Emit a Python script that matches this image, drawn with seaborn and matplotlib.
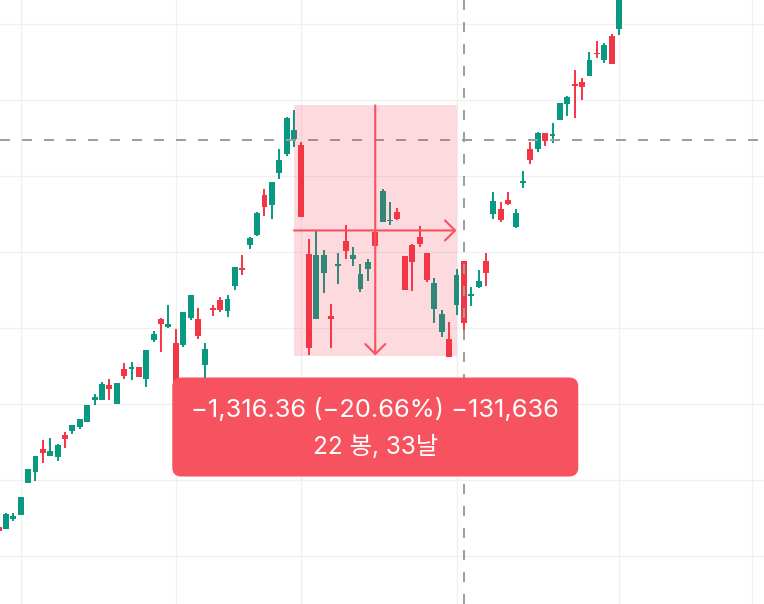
import numpy as np
import pandas as pd
import matplotlib
matplotlib.use("Agg")
import matplotlib.pyplot as plt
import seaborn as sns
from matplotlib.patches import FancyBboxPatch, Rectangle
from matplotlib.transforms import IdentityTransform

# ---------------- data ----------------
opens = [4153, 4142, 4195, 4216, 4384, 4442, 4563, 4526, 4521, 4637,
         4658, 4679, 4705, 4821, 4821, 4900, 4800, 4984, 4984, 4995,
         4932, 5137, 5247, 5205, 5121, 5111, 5253, 5247, 5005, 5305,
         5347, 5290, 5421, 5516, 5637, 5690, 5900, 5847, 6016, 6116,
         6195, 6163, 5590, 5247, 5490, 5263, 5526, 5658, 5563, 5405,
         5511, 5705, 5758, 5763, 5811, 5579, 5637, 5679, 5595, 5300,
         5179, 5142, 5321, 5553, 5369, 5416, 5553, 5800, 5826, 5874,
         5732, 5963, 6142, 6142, 6226, 6211, 6295, 6379, 6484, 6495,
         6526, 6647, 6611, 6737, 6774]
highs = [4163, 4226, 4226, 4311, 4458, 4526, 4611, 4621, 4590, 4653,
         4690, 4721, 4795, 4853, 4916, 4932, 4911, 5016, 5021, 4995,
         5084, 5184, 5253, 5321, 5195, 5284, 5374, 5305, 5121, 5321,
         5363, 5374, 5521, 5584, 5679, 5811, 5932, 5968, 6142, 6311,
         6347, 6179, 5668, 5716, 5611, 5326, 5595, 5742, 5626, 5537,
         5563, 5716, 5932, 5863, 5832, 5579, 5642, 5737, 5595, 5463,
         5295, 5232, 5511, 5553, 5416, 5505, 5595, 5916, 5863, 5916,
         5826, 6026, 6179, 6232, 6226, 6279, 6384, 6421, 6558, 6516,
         6653, 6711, 6700, 6747, 7005]
lows = [4126, 4142, 4184, 4216, 4384, 4395, 4490, 4526, 4500, 4569,
        4642, 4669, 4705, 4795, 4821, 4821, 4800, 4932, 4926, 4942,
        4890, 5126, 5074, 5200, 4874, 5100, 5242, 5142, 4926, 5263,
        5284, 5258, 5400, 5479, 5616, 5684, 5790, 5774, 5984, 6105,
        6153, 5784, 5058, 5247, 5384, 5095, 5432, 5563, 5526, 5390,
        5447, 5632, 5758, 5742, 5768, 5400, 5395, 5626, 5442, 5226,
        5153, 5047, 5268, 5174, 5316, 5411, 5421, 5774, 5758, 5847,
        5726, 5937, 6063, 6126, 6158, 6174, 6295, 6316, 6305, 6400,
        6526, 6621, 6595, 6590, 6742]
closes = [4132, 4221, 4211, 4311, 4458, 4526, 4542, 4553, 4584, 4616,
          4690, 4721, 4795, 4837, 4905, 4879, 4911, 4947, 4995, 4942,
          5084, 5169, 5221, 5221, 4874, 5284, 5374, 5158, 5090, 5295,
          5295, 5353, 5521, 5505, 5674, 5805, 5837, 5968, 6084, 6305,
          6242, 5784, 5095, 5584, 5584, 5247, 5537, 5605, 5584, 5484,
          5547, 5632, 5921, 5768, 5774, 5400, 5547, 5642, 5453, 5437,
          5274, 5047, 5479, 5226, 5379, 5447, 5490, 5868, 5768, 5853,
          5805, 5974, 6084, 6226, 6184, 6221, 6384, 6416, 6474, 6468,
          6611, 6642, 6690, 6590, 7005]

measure_start_bar = 40
measure_end_bar = 62
measure_start_price = 6371.60
measure_change = -1316.36
measure_pct = -20.66
measure_ticks = -131636
measure_bars = 22
measure_days = 33

crosshair_bar = 63
crosshair_price = 6189.5

month_start_bars = [3, 24, 41, 62, 84, 102]
price_grid = [4000, 4400, 4800, 5200, 5600, 6000, 6400, 6800]

# ---------------- styling ----------------
sns.set_theme(style="white")
plt.rcParams['font.family'] = ['Inter', 'Noto Sans CJK KR', 'DejaVu Sans']

UP = '#089981'
DOWN = '#f23645'
LABEL = '#f7525f'

df = pd.DataFrame({'open': opens, 'high': highs, 'low': lows, 'close': closes})
df['bar'] = np.arange(len(df))
df['up'] = df['close'] >= df['open']
df['color'] = np.where(df['up'], UP, DOWN)

fig = plt.figure(figsize=(7.64, 6.04), dpi=100)
ax = fig.add_axes([0, 0, 1, 1])
ax.set_facecolor('white')

ax.set_xlim(0.195, 103.63)
ax.set_ylim(3747.4, 6926.3)

# grid
ax.set_xticks(month_start_bars)
ax.set_yticks(price_grid)
ax.grid(True, color='#f0f0f0', lw=1.0, zorder=0)
ax.set_axisbelow(True)
ax.tick_params(length=0, labelbottom=False, labelleft=False)
for s in ax.spines.values():
    s.set_visible(False)

# candles
ax.vlines(df['bar'], df['low'], df['high'], colors=df['color'], lw=1.4, zorder=2)
body_h = (df['close'] - df['open']).abs().clip(lower=6)
body_b = df[['open', 'close']].min(axis=1)
ax.bar(df['bar'], body_h, bottom=body_b, width=0.8, color=df['color'],
       linewidth=0, zorder=3)

# crosshair
ax.axvline(crosshair_bar, color='#9e9e9e', lw=1.44, ls=(0, (5, 6)), zorder=4)
ax.axhline(crosshair_price, color='#9e9e9e', lw=1.44, ls=(0, (5, 6)), zorder=4)

# measure box
end_price = measure_start_price + measure_change
ax.add_patch(Rectangle((measure_start_bar, end_price),
                       measure_end_bar - measure_start_bar, -measure_change,
                       facecolor=DOWN, alpha=0.18, edgecolor='none', zorder=5))
mid_bar = (measure_start_bar + measure_end_bar) / 2
mid_price = (measure_start_price + end_price) / 2
arrow_kw = dict(arrowstyle='->,head_length=0.36,head_width=0.36', color=LABEL,
                lw=1.5, mutation_scale=20, shrinkA=0, shrinkB=0)
ax.annotate('', xy=(mid_bar, end_price), xytext=(mid_bar, measure_start_price),
            arrowprops=arrow_kw, zorder=6)
ax.annotate('', xy=(measure_end_bar, mid_price), xytext=(measure_start_bar, mid_price),
            arrowprops=arrow_kw, zorder=6)

# label
cx, by = ax.transData.transform((mid_bar, end_price))
lw_, lh_ = 406, 99
top = by - 22
lab = FancyBboxPatch((cx - lw_ / 2, top - lh_), lw_, lh_,
                     boxstyle='round,pad=0,rounding_size=9',
                     facecolor=LABEL, edgecolor='none',
                     transform=IdentityTransform(), zorder=10)
fig.add_artist(lab)
line1 = (f"\u2212{abs(measure_change):,.2f} (\u2212{abs(measure_pct):.2f}%) "
         f"\u2212{abs(measure_ticks):,}")
line2 = f"{measure_bars} 봉, {measure_days}날"
fig.text(cx, top - 39, line1, transform=IdentityTransform(), ha='center',
         va='baseline', color='white', fontsize=18.3, zorder=11)
fig.text(cx, top - 76, line2, transform=IdentityTransform(), ha='center',
         va='baseline', color='white', fontsize=17.5, zorder=11)

fig.savefig('out.png', dpi=100)
